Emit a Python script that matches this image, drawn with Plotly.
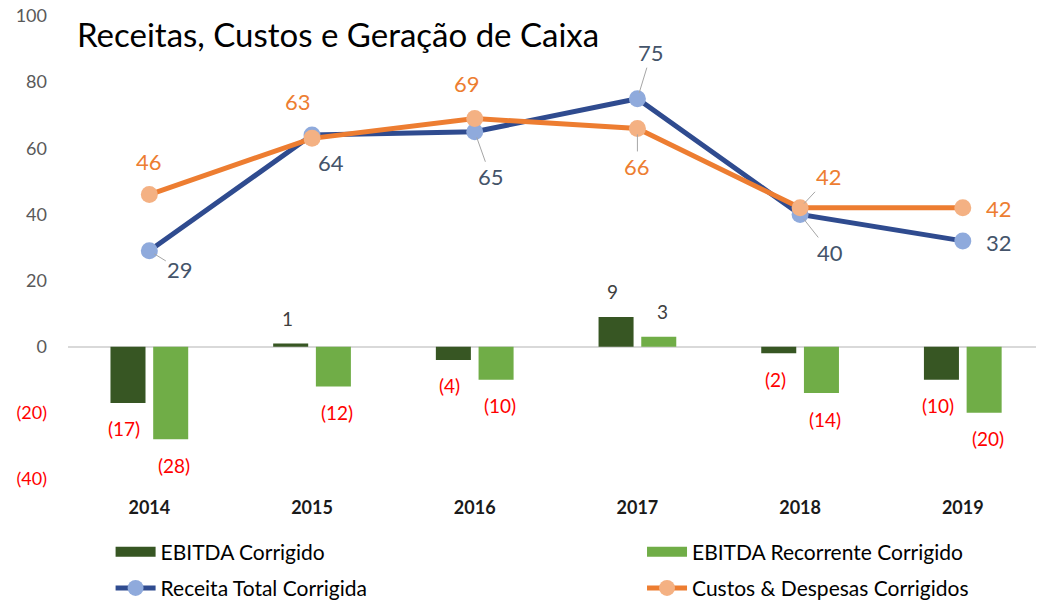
import plotly.graph_objects as go

# ---- data ----
years = ["2014", "2015", "2016", "2017", "2018", "2019"]
ebitda = [-17, 1, -4, 9, -2, -10]
ebitda_rec = [-28, -12, -10, 3, -14, -20]
receita = [29, 64, 65, 75, 40, 32]
custos = [46, 63, 69, 66, 42, 42]
y_tickvals = [-40, -20, 0, 20, 40, 60, 80, 100]

# ---- label placement (pixel offsets) ----
rec_dx = [31, 19, 16, 14, 30, 36]
rec_dy = [19, 27, 45, -46, 38, 2]
rec_leader = [True, False, True, True, True, False]
cus_dx = [0, -14, -8, 0, 29, 36]
cus_dy = [-33, -37, -35, 38, -31, 1]
cus_leader = [False, False, False, True, True, False]

FONT = "Lato"
BLUE_LINE = "#2F4B8F"
BLUE_MK = "#8FAADC"
ORANGE_LINE = "#ED7D31"
ORANGE_MK = "#F4B183"
DARK_GREEN = "#375623"
LIGHT_GREEN = "#70AD47"
BLUE_TXT = "#44546A"
RED = "#FF0000"


def fmt(v):
    return f"({abs(v)})" if v < 0 else str(v)


def tick_text(v):
    if v < 0:
        return f'<span style="color:{RED}">({abs(v)})</span>'
    return str(v)


fig = go.Figure()
fig.add_trace(go.Bar(x=years, y=ebitda, name="EBITDA Corrigido", showlegend=False,
                     marker=dict(color=DARK_GREEN, line=dict(width=0))))
fig.add_trace(go.Bar(x=years, y=ebitda_rec, name="EBITDA Recorrente Corrigido", showlegend=False,
                     marker=dict(color=LIGHT_GREEN, line=dict(width=0))))
fig.add_trace(go.Scatter(x=years, y=receita, name="Receita Total Corrigida",
                         mode="lines+markers", legend="legend3",
                         line=dict(color=BLUE_LINE, width=5),
                         marker=dict(color=BLUE_MK, size=17, line=dict(width=0))))
fig.add_trace(go.Scatter(x=years, y=custos, name="Custos & Despesas Corrigidos",
                         mode="lines+markers", legend="legend4",
                         line=dict(color=ORANGE_LINE, width=5),
                         marker=dict(color=ORANGE_MK, size=17, line=dict(width=0))))
# legend swatches for the bar series
fig.add_trace(go.Scatter(x=[None], y=[None], mode="lines", name="EBITDA Corrigido",
                         legend="legend", line=dict(color=DARK_GREEN, width=13)))
fig.add_trace(go.Scatter(x=[None], y=[None], mode="lines", name="EBITDA Recorrente Corrigido",
                         legend="legend2", line=dict(color=LIGHT_GREEN, width=13)))

annotations = []
# line labels
for series, dxs, dys, leads, col in [
    (receita, rec_dx, rec_dy, rec_leader, BLUE_TXT),
    (custos, cus_dx, cus_dy, cus_leader, ORANGE_LINE),
]:
    for i, (v, dx, dy, lead) in enumerate(zip(series, dxs, dys, leads)):
        a = dict(x=i, y=v, xref="x", yref="y", text=fmt(v),
                 font=dict(family=FONT, size=22, color=col))
        if lead:
            a.update(showarrow=True, ax=dx, ay=dy, arrowhead=0, arrowwidth=1,
                     arrowcolor="#A6A6A6", standoff=6)
        else:
            a.update(showarrow=False, xshift=dx, yshift=-dy)
        annotations.append(a)

# bar labels
for series, xs in [(ebitda, -25), (ebitda_rec, 25)]:
    for i, v in enumerate(series):
        annotations.append(dict(
            x=i, y=v, xref="x", yref="y", text=fmt(v), showarrow=False,
            xshift=xs, yshift=(25 if v > 0 else -26),
            font=dict(family=FONT, size=19, color=(RED if v < 0 else "#404040"))))

# title
annotations.append(dict(x=0.0072, y=0.962, xref="paper", yref="paper",
                        text="Receitas, Custos e Geração de Caixa",
                        showarrow=False, font=dict(family=FONT, size=33, color="#000000"),
                        xanchor="left", yanchor="middle"))

leg_font = dict(family=FONT, size=21, color="#000000")
legend_common = dict(orientation="h", xanchor="left", yanchor="middle",
                     font=leg_font, bgcolor="rgba(0,0,0,0)", itemwidth=40)

fig.update_layout(
    width=1038, height=603,
    margin=dict(l=68, r=2, t=16, b=124, autoexpand=False),
    paper_bgcolor="white", plot_bgcolor="white",
    barmode="group", bargap=0.475, bargroupgap=0.18,
    font=dict(family=FONT),
    showlegend=True,
    legend=dict(x=0.044, y=-0.158, **legend_common),
    legend2=dict(x=0.593, y=-0.158, **legend_common),
    legend3=dict(x=0.044, y=-0.236, **legend_common),
    legend4=dict(x=0.593, y=-0.236, **legend_common),
    annotations=annotations,
)
fig.update_xaxes(type="category", range=[-0.5, 5.45], showgrid=False, showline=False,
                 zeroline=False, ticks="", ticklabelstandoff=16, automargin=False,
                 tickfont=dict(family=FONT, size=18, color="#1a1a1a", weight="bold"))
fig.update_yaxes(range=[-40, 100], tickvals=y_tickvals,
                 ticktext=[tick_text(v) for v in y_tickvals],
                 showgrid=False, showline=False, zeroline=True,
                 zerolinecolor="#D9D9D9", zerolinewidth=1.5, ticks="",
                 ticklabelstandoff=20, automargin=False,
                 tickfont=dict(family=FONT, size=18, color="#595959"))

fig.write_html("out.html", config={"displayModeBar": False},
               post_script="document.body.style.margin='0';")
